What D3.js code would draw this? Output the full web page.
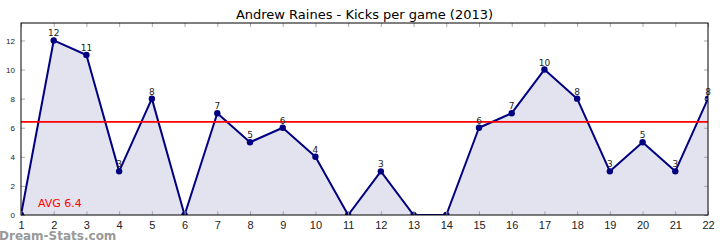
<!DOCTYPE html>
<html>
<head>
<meta charset="utf-8">
<script src="https://cdn.jsdelivr.net/npm/d3@7"></script>
<style>
  body { margin: 0; background: #fff; }
  svg { font-family: "DejaVu Sans", sans-serif; }
</style>
</head>
<body>
<svg id="chart" width="720" height="240"></svg>
<script>
var games = [1,2,3,4,5,6,7,8,9,10,11,12,13,14,15,16,17,18,19,20,21,22];
var kicks = [0,12,11,3,8,0,7,5,6,4,0,3,0,0,6,7,10,8,3,5,3,8];
var yTicks = [0,2,4,6,8,10,12];
var avgValue = 6.4;
var titleText = 'Andrew Raines - Kicks per game (2013)';

var
  margin = {top: 23, right: 12, bottom: 25, left: 21},
  svg = d3.select('#chart'),
  width = +svg.attr('width') - margin.left - margin.right,
  height = +svg.attr('height') - margin.top - margin.bottom,
  g = svg.append('g').attr('transform', 'translate(' + margin.left + ',' + margin.top + ')')
  ;

var data = games.map(function(d, i){ return {game: d, value: kicks[i]}; });

var xScale = d3.scaleLinear().domain([1, 22]).range([0, width]);
var yScale = d3.scaleLinear().domain([0, 13.2]).range([height, 0]);

svg.append('defs').append('clipPath').attr('id', 'clip')
  .append('rect').attr('width', width).attr('height', height);

var plot = g.append('g').attr('clip-path', 'url(#clip)');

plot.append('path')
  .datum(data)
  .attr('fill', '#e3e3ef')
  .attr('d', d3.area()
    .x(function(d){ return xScale(d.game); })
    .y0(yScale(0))
    .y1(function(d){ return yScale(d.value); }));

plot.append('path')
  .datum(data)
  .attr('fill', 'none')
  .attr('stroke', '#000080')
  .attr('stroke-width', 2)
  .attr('stroke-linejoin', 'round')
  .attr('d', d3.line()
    .x(function(d){ return xScale(d.game); })
    .y(function(d){ return yScale(d.value); }));

plot.selectAll('circle')
  .data(data)
  .enter().append('circle')
  .attr('cx', function(d){ return xScale(d.game); })
  .attr('cy', function(d){ return yScale(d.value); })
  .attr('r', 3.2)
  .attr('fill', '#000080');

plot.append('line')
  .attr('x1', 0).attr('x2', width)
  .attr('y1', yScale(avgValue)).attr('y2', yScale(avgValue))
  .attr('stroke', '#ff0000')
  .attr('stroke-width', 1.6);

g.selectAll('.vlabel')
  .data(data.filter(function(d){ return d.value > 0; }))
  .enter().append('text')
  .attr('class', 'vlabel')
  .attr('x', function(d){ return xScale(d.game); })
  .attr('y', function(d){ return yScale(d.value) - 4; })
  .attr('text-anchor', 'middle')
  .attr('font-size', 9)
  .attr('fill', '#222')
  .text(function(d){ return d.value; });

// axes: ticks point inward on all four sides
function styleAxis(sel){
  sel.select('.domain').remove();
  sel.selectAll('.tick line').attr('stroke', '#aaa');
  sel.selectAll('.tick text').attr('fill', '#222').attr('font-size', 11);
}

g.append('g')
  .attr('transform', 'translate(0,' + height + ')')
  .call(d3.axisBottom(xScale).tickValues(games).tickSize(-4).tickPadding(6).tickFormat(d3.format('d')))
  .call(styleAxis)
  .call(function(s){ s.selectAll('text').attr('font-size', 11); });

g.append('g')
  .call(d3.axisTop(xScale).tickValues(games).tickSize(-4).tickFormat(''))
  .call(styleAxis);

g.append('g')
  .call(d3.axisLeft(yScale).tickValues(yTicks).tickSize(-4).tickPadding(6))
  .call(styleAxis)
  .call(function(s){ s.selectAll('text').attr('font-size', 8); });

g.append('g')
  .attr('transform', 'translate(' + width + ',0)')
  .call(d3.axisRight(yScale).tickValues(yTicks).tickSize(-4).tickFormat(''))
  .call(styleAxis);

g.append('rect')
  .attr('width', width).attr('height', height)
  .attr('fill', 'none').attr('stroke', '#000').attr('stroke-width', 1);

g.append('text')
  .attr('x', 17).attr('y', height - 8)
  .attr('fill', '#ff0000')
  .attr('font-size', 11)
  .text('AVG ' + avgValue);

svg.append('text')
  .attr('x', margin.left + width / 2).attr('y', 19)
  .attr('text-anchor', 'middle')
  .attr('font-size', 13)
  .attr('fill', '#000')
  .text(titleText);

svg.append('text')
  .attr('x', -1).attr('y', 240)
  .attr('font-size', 12)
  .attr('font-weight', 'bold')
  .attr('fill', '#999')
  .text('Dream-Stats.com');
</script>
</body>
</html>
